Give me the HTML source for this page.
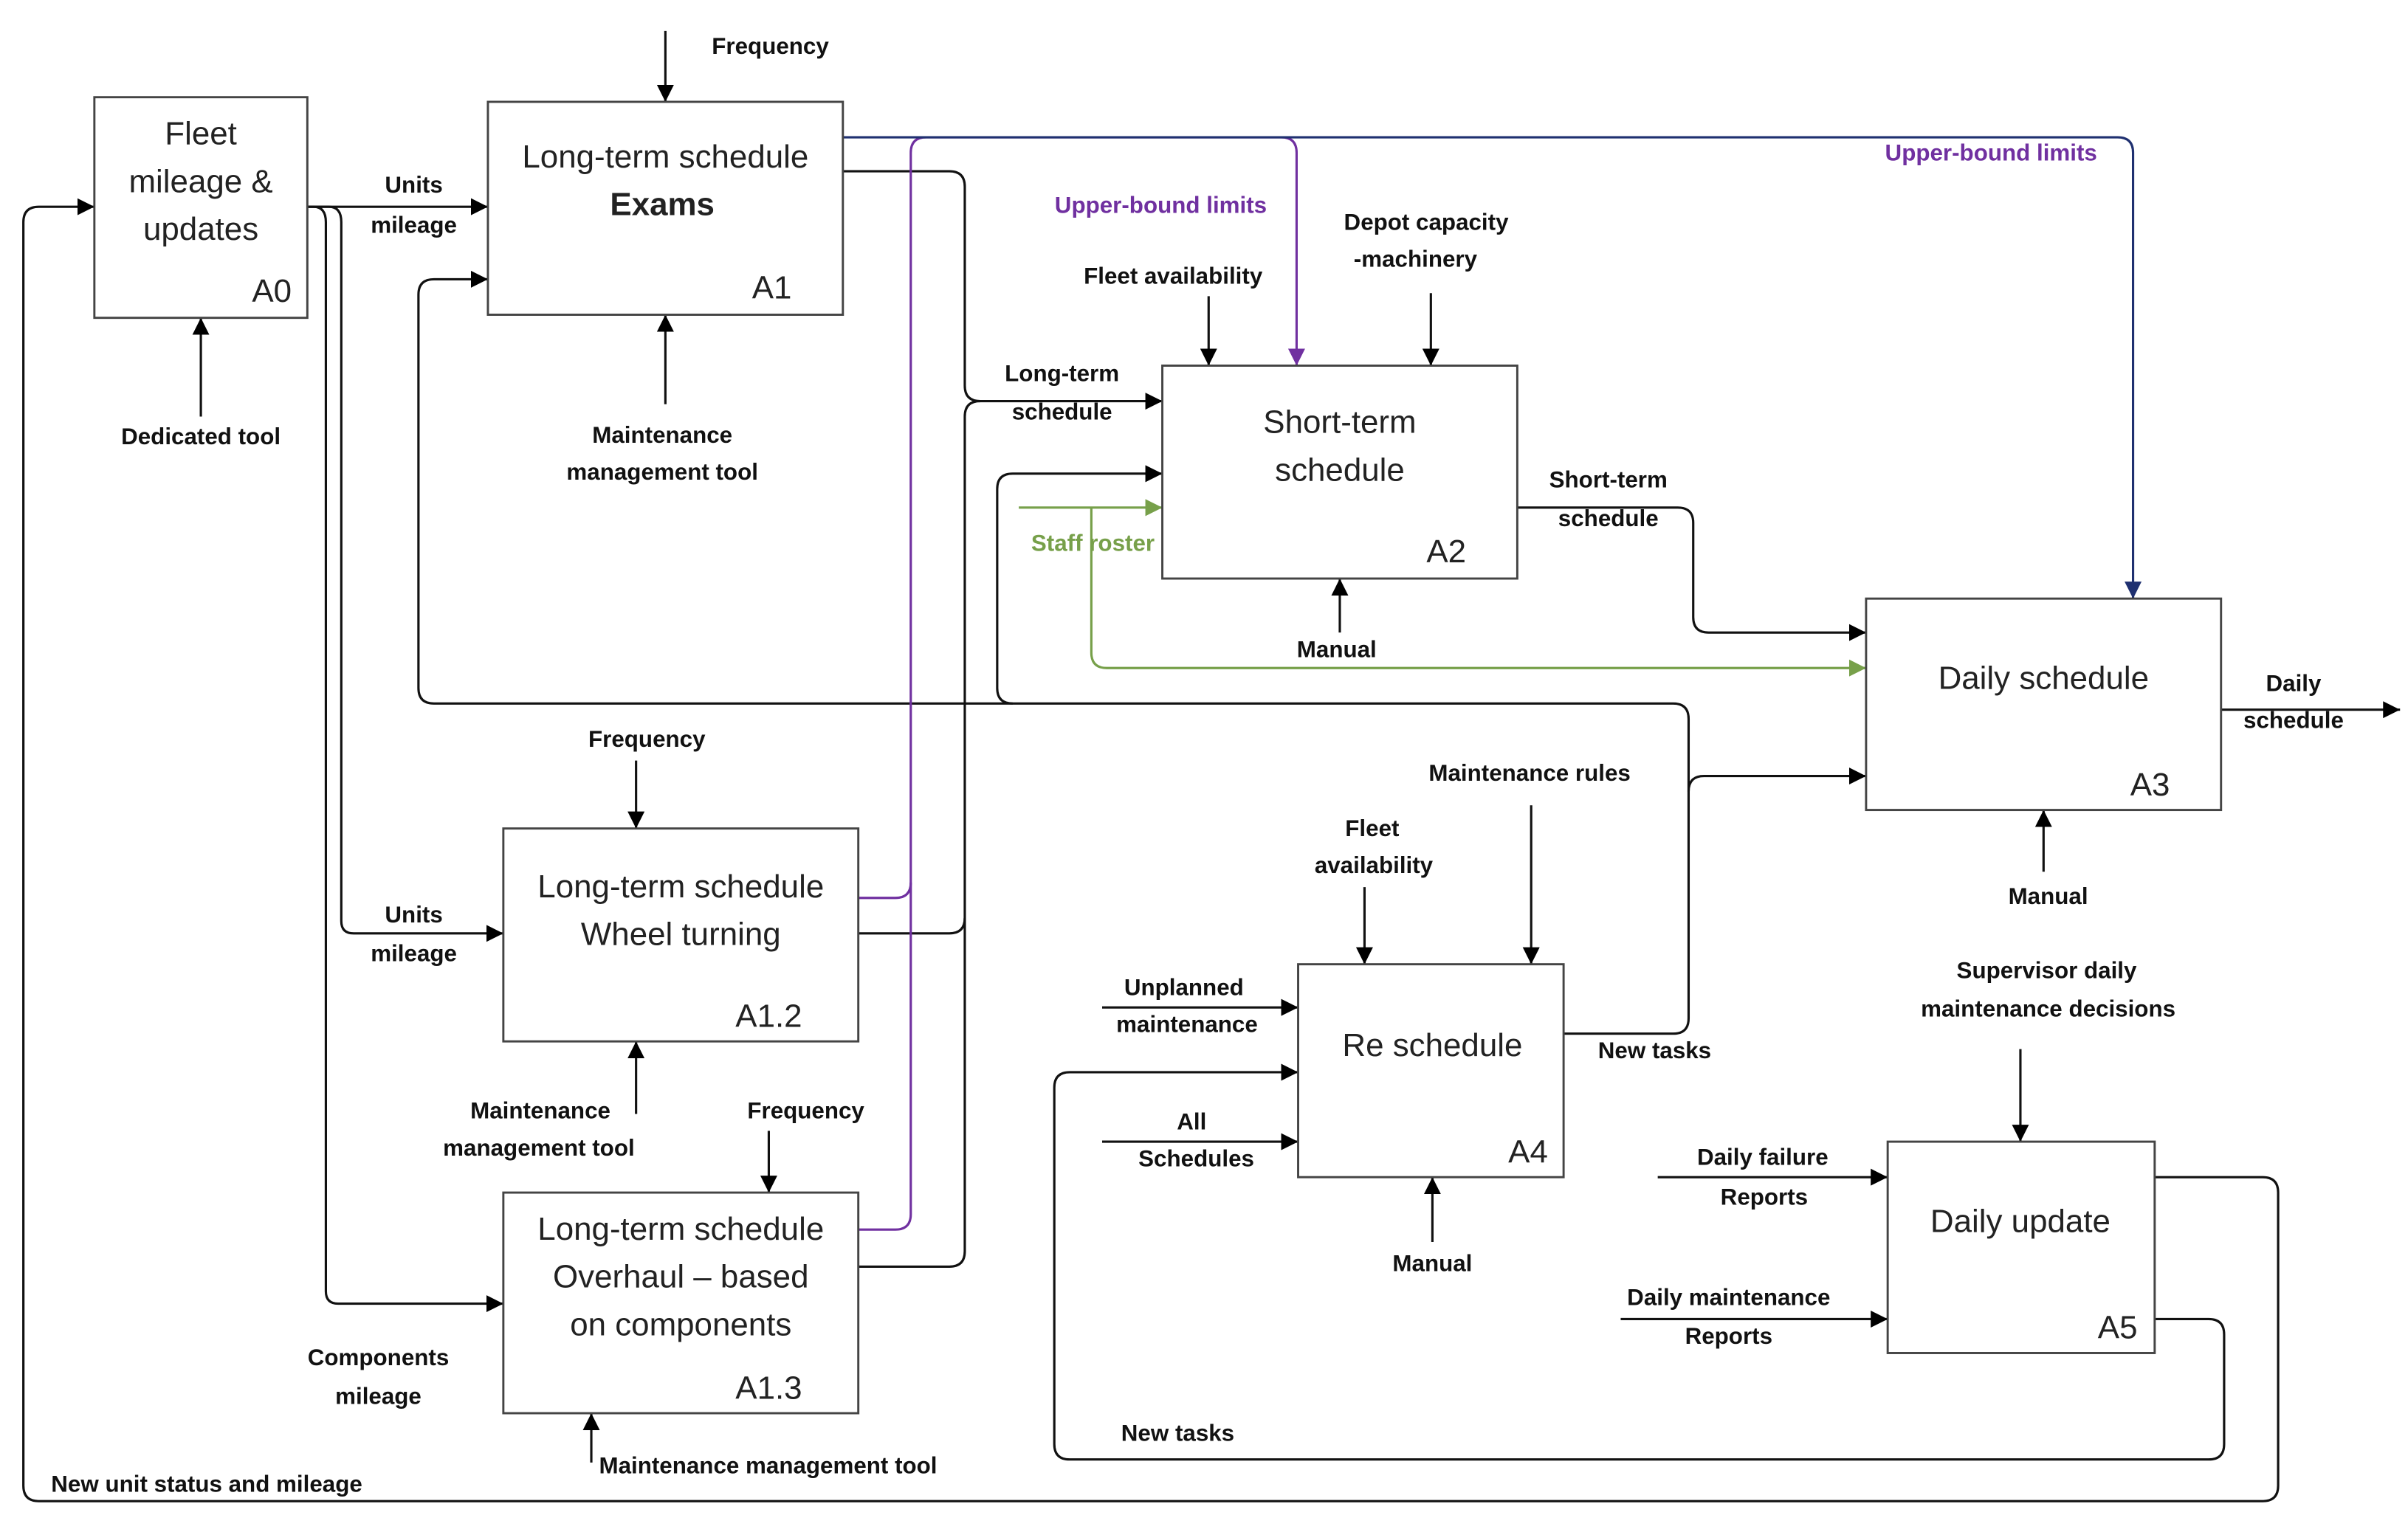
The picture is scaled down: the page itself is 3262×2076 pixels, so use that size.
<!DOCTYPE html>
<html><head><meta charset="utf-8"><style>
html,body{margin:0;padding:0;background:#fff}
svg{display:block}
.b{fill:#fff;stroke:#444;stroke-width:1.4}
.t{font-family:"Liberation Sans",sans-serif;font-size:21px;fill:#222;text-anchor:middle;dominant-baseline:middle}
.l{font-family:"Liberation Sans",sans-serif;font-size:15px;font-weight:bold;fill:#111;text-anchor:middle;dominant-baseline:middle}
.k{fill:none;stroke:#111;stroke-width:1.5}
</style></head><body>
<svg width="3262" height="2076" viewBox="0 0 1560 993" xmlns="http://www.w3.org/2000/svg">
<defs>
<marker id="a" viewBox="0 0 10 10" refX="10" refY="5" markerWidth="11" markerHeight="11" markerUnits="userSpaceOnUse" orient="auto"><path d="M0,0L10,5L0,10z" fill="#000"/></marker>
<marker id="ap" viewBox="0 0 10 10" refX="10" refY="5" markerWidth="11" markerHeight="11" markerUnits="userSpaceOnUse" orient="auto"><path d="M0,0L10,5L0,10z" fill="#7030a0"/></marker>
<marker id="an" viewBox="0 0 10 10" refX="10" refY="5" markerWidth="11" markerHeight="11" markerUnits="userSpaceOnUse" orient="auto"><path d="M0,0L10,5L0,10z" fill="#1f3070"/></marker>
<marker id="ag" viewBox="0 0 10 10" refX="10" refY="5" markerWidth="11" markerHeight="11" markerUnits="userSpaceOnUse" orient="auto"><path d="M0,0L10,5L0,10z" fill="#77a04a"/></marker>
</defs>

<!-- connectors -->
<g class="k">
<path d="M431,20V66" marker-end="url(#a)"/>
<path d="M199,134H316" marker-end="url(#a)"/>
<path d="M1396,763H1466Q1476,763 1476,773V963Q1476,973 1466,973H25Q15,973 15,963V144Q15,134 25,134H61" marker-end="url(#a)"/>
<path d="M199,134H213Q221,134 221,144V597Q221,605 229,605H326" marker-end="url(#a)"/>
<path d="M199,134H203Q211,134 211,144V837Q211,845 219,845H326" marker-end="url(#a)"/>
<path d="M130,270V206" marker-end="url(#a)"/>
<path d="M431,262V204" marker-end="url(#a)"/>
<path d="M1013,670H1084Q1094,670 1094,660V466Q1094,456 1084,456H281Q271,456 271,446V191Q271,181 281,181H316" marker-end="url(#a)"/>
<path d="M1094,513Q1094,503 1104,503H1209" marker-end="url(#a)"/>
<path d="M656,456Q646,456 646,446V317Q646,307 656,307H753" marker-end="url(#a)"/>
<path d="M546,111H615Q625,111 625,121V250Q625,260 635,260H753" marker-end="url(#a)"/>
<path d="M556,605H615Q625,605 625,595V270Q625,260 635,260"/>
<path d="M556,821H615Q625,821 625,811V595"/>
<path d="M783,192V237" marker-end="url(#a)"/>
<path d="M927,190V237" marker-end="url(#a)"/>
<path d="M868,410V375" marker-end="url(#a)"/>
<path d="M983,329H1087Q1097,329 1097,339V400Q1097,410 1107,410H1209" marker-end="url(#a)"/>
<path d="M1439,460H1555" marker-end="url(#a)"/>
<path d="M1324,565V525" marker-end="url(#a)"/>
<path d="M412,493V537" marker-end="url(#a)"/>
<path d="M412,722V675" marker-end="url(#a)"/>
<path d="M498,733V773" marker-end="url(#a)"/>
<path d="M383,948V916" marker-end="url(#a)"/>
<path d="M884,575V625" marker-end="url(#a)"/>
<path d="M992,522V625" marker-end="url(#a)"/>
<path d="M714,653H841" marker-end="url(#a)"/>
<path d="M714,740H841" marker-end="url(#a)"/>
<path d="M1396,855H1431Q1441,855 1441,865V936Q1441,946 1431,946H693Q683,946 683,936V705Q683,695 693,695H841" marker-end="url(#a)"/>
<path d="M928,805V763" marker-end="url(#a)"/>
<path d="M1309,680V740" marker-end="url(#a)"/>
<path d="M1074,763H1223" marker-end="url(#a)"/>
<path d="M1050,855H1223" marker-end="url(#a)"/>
</g>
<g fill="none" stroke-width="1.5">
<path d="M556,582H580Q590,582 590,572V99Q590,89 600,89H830Q840,89 840,99V237" stroke="#7030a0" marker-end="url(#ap)"/>
<path d="M556,797H580Q590,797 590,787V572" stroke="#7030a0"/>
<path d="M546,89H1372Q1382,89 1382,99V388" stroke="#1f3070" marker-end="url(#an)"/>
<path d="M660,329H753" stroke="#77a04a" marker-end="url(#ag)"/>
<path d="M707,329V423Q707,433 717,433H1209" stroke="#77a04a" marker-end="url(#ag)"/>
</g>

<!-- boxes -->
<rect class="b" x="61" y="63" width="138" height="143"/>
<rect class="b" x="316" y="66" width="230" height="138"/>
<rect class="b" x="753" y="237" width="230" height="138"/>
<rect class="b" x="1209" y="388" width="230" height="137"/>
<rect class="b" x="326" y="537" width="230" height="138"/>
<rect class="b" x="326" y="773" width="230" height="143"/>
<rect class="b" x="841" y="625" width="172" height="138"/>
<rect class="b" x="1223" y="740" width="173" height="137"/>

<text class="t" x="130" y="88">Fleet</text>
<text class="t" x="130" y="119">mileage &amp;</text>
<text class="t" x="130" y="150">updates</text>
<text class="t" x="176" y="190">A0</text>
<text class="t" x="431" y="103">Long-term schedule</text>
<text class="t" x="429" y="134" font-weight="bold">Exams</text>
<text class="t" x="500" y="188">A1</text>
<text class="t" x="868" y="275">Short-term</text>
<text class="t" x="868" y="306">schedule</text>
<text class="t" x="937" y="359">A2</text>
<text class="t" x="1324" y="441">Daily schedule</text>
<text class="t" x="1393" y="510">A3</text>
<text class="t" x="441" y="576">Long-term schedule</text>
<text class="t" x="441" y="607">Wheel turning</text>
<text class="t" x="498" y="660">A1.2</text>
<text class="t" x="441" y="798">Long-term schedule</text>
<text class="t" x="441" y="829">Overhaul – based</text>
<text class="t" x="441" y="860">on components</text>
<text class="t" x="498" y="901">A1.3</text>
<text class="t" x="928" y="679">Re schedule</text>
<text class="t" x="990" y="748">A4</text>
<text class="t" x="1309" y="793">Daily update</text>
<text class="t" x="1372" y="862">A5</text>

<g class="l">
<text x="499" y="31">Frequency</text>
<text x="268" y="121">Units</text><text x="268" y="147">mileage</text>
<text x="130" y="284">Dedicated tool</text>
<text x="429" y="283">Maintenance</text><text x="429" y="307">management tool</text>
<text x="752" y="134" fill="#7030a0">Upper-bound limits</text>
<text x="1290" y="100" fill="#7030a0">Upper-bound limits</text>
<text x="924" y="145">Depot capacity</text><text x="917" y="169">-machinery</text>
<text x="760" y="180">Fleet availability</text>
<text x="688" y="243">Long-term</text><text x="688" y="268">schedule</text>
<text x="708" y="353" fill="#77a04a">Staff roster</text>
<text x="1042" y="312">Short-term</text><text x="1042" y="337">schedule</text>
<text x="866" y="422">Manual</text>
<text x="1486" y="444">Daily</text><text x="1486" y="468">schedule</text>
<text x="419" y="480">Frequency</text>
<text x="991" y="502">Maintenance rules</text>
<text x="889" y="538">Fleet</text><text x="890" y="562">availability</text>
<text x="1327" y="582">Manual</text>
<text x="268" y="594">Units</text><text x="268" y="619">mileage</text>
<text x="1326" y="630">Supervisor daily</text><text x="1327" y="655">maintenance decisions</text>
<text x="767" y="641">Unplanned</text><text x="769" y="665">maintenance</text>
<text x="1072" y="682">New tasks</text>
<text x="350" y="721">Maintenance</text><text x="349" y="745">management tool</text>
<text x="522" y="721">Frequency</text>
<text x="772" y="728">All</text><text x="775" y="752">Schedules</text>
<text x="1142" y="751">Daily failure</text><text x="1143" y="777">Reports</text>
<text x="928" y="820">Manual</text>
<text x="1120" y="842">Daily maintenance</text><text x="1120" y="867">Reports</text>
<text x="245" y="881">Components</text><text x="245" y="906">mileage</text>
<text x="763" y="930">New tasks</text>
<text x="388" y="951" text-anchor="start">Maintenance management tool</text>
<text x="33" y="963" text-anchor="start">New unit status and mileage</text>
</g>
</svg>
</body></html>
